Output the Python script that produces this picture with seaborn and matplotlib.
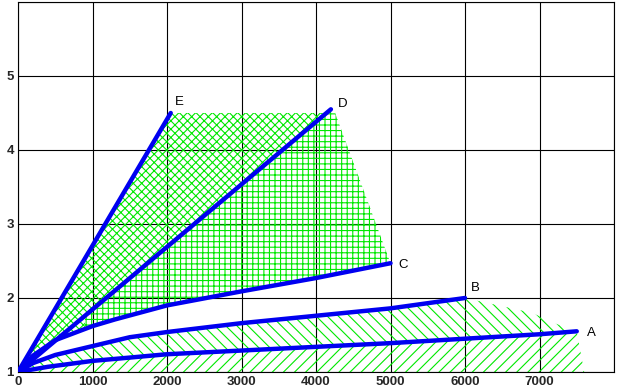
import numpy as np
import matplotlib
matplotlib.use("Agg")
import matplotlib.pyplot as plt
import seaborn as sns

# curves
x_a = [0, 400, 1000, 2000, 3000, 4000, 5000, 6000, 7000, 7500]
y_a = [1.0, 1.07, 1.15, 1.24, 1.29, 1.34, 1.39, 1.45, 1.51, 1.55]
x_b = [0, 200, 500, 1000, 1500, 2000, 3000, 4000, 5000, 6000]
y_b = [1.0, 1.12, 1.23, 1.35, 1.47, 1.54, 1.66, 1.76, 1.86, 2.0]
x_c = [0, 200, 500, 1000, 1300, 2000, 3000, 4000, 5000]
y_c = [1.0, 1.22, 1.43, 1.62, 1.71, 1.90, 2.09, 2.27, 2.47]
x_d = [0, 4200]
y_d = [1.0, 4.55]
x_e = [0, 2050]
y_e = [1.0, 4.5]
names = ["A", "B", "C", "D", "E"]

# borders of the hatched zones
grid_left = 900                      # where the "+" zone starts
x_grid_edge = [900, 4250, 5000]      # top / right edge of the "+" zone
y_grid_edge = [4.52, 4.52, 2.47]
x_ab_edge = [6000, 6900, 7200, 7500]  # right edge of zone between A and B
y_ab_edge = [2.0, 1.8, 1.66, 1.55]
a_edge_x = 7600                      # where the zone under A ends at y=1

sns.set_style("white")
plt.rcParams["font.family"] = ["Liberation Sans", "DejaVu Sans"]
plt.rcParams["hatch.linewidth"] = 0.8
plt.rcParams["hatch.color"] = "#00e800"

fig = plt.figure(figsize=(6.18, 3.92), dpi=100)
ax = fig.add_axes([18 / 618, 20 / 392, 596 / 618, 370 / 392])

green = "#00e800"
xs = np.linspace(0, 8000, 4001)
A = np.interp(xs, x_a, y_a)
B = np.interp(xs, x_b, y_b)
C = np.interp(xs, x_c, y_c)
D = np.interp(xs, x_d, y_d, right=np.inf)
E = np.interp(xs, x_e, y_e)

# crosshatch between E and D (and down to C near the origin)
low = np.where(xs < grid_left, C, D)
ax.fill_between(xs, low, E, where=E > low, interpolate=True, hatch="xxxx",
                facecolor="none", edgecolor=green, linewidth=0)

# grid hatch between D and C
top = np.minimum(D, np.interp(xs, x_grid_edge, y_grid_edge, right=-np.inf))
m = (xs >= grid_left) & (top > C)
ax.fill_between(xs, C, top, where=m, hatch="+++",
                facecolor="none", edgecolor=green, linewidth=0)

# "\" hatch between A and B
ab_top = np.interp(xs, x_b + x_ab_edge[1:], y_b + y_ab_edge[1:], right=-np.inf)
ax.fill_between(xs, A, ab_top, where=ab_top > A, interpolate=True, hatch="\\\\\\",
                facecolor="none", edgecolor=green, linewidth=0)

# "/" hatch under A
a_top = np.interp(xs, x_a + [a_edge_x], y_a + [1.0], right=1.0)
ax.fill_between(xs, 1.0, a_top, where=a_top > 1.0, interpolate=True, hatch="///",
                facecolor="none", edgecolor=green, linewidth=0)

blue = "#0000f0"
curves = [(x_a, y_a), (x_b, y_b), (x_c, y_c), (x_d, y_d), (x_e, y_e)]
offsets = [(7, -1), (4, 7), (6, -1), (5, 4), (3, 8)]
for (cx, cy), name, off in zip(curves, names, offsets):
    sns.lineplot(x=cx, y=cy, ax=ax, color=blue, linewidth=3.2, sort=False,
                 zorder=5)
    ax.annotate(name, (cx[-1], cy[-1]), xytext=off, textcoords="offset points",
                fontsize=9.5, ha="left", va="center", color="black")

ax.set_xlim(0, 8000)
ax.set_ylim(1, 6)
ax.set_xticks(range(0, 8001, 1000))
ax.set_yticks(range(1, 7))
ax.set_xticklabels([str(v) for v in range(0, 8000, 1000)] + [""],
                   fontweight="bold", fontsize=9.5)
ax.set_yticklabels([str(v) for v in range(1, 6)] + [""],
                   fontweight="bold", fontsize=9.5)
ax.tick_params(length=0, pad=3)
ax.grid(True, color="black", linewidth=0.8)
for s in ax.spines.values():
    s.set_color("black")
    s.set_linewidth(0.8)
ax.set_xlabel("")
ax.set_ylabel("")

fig.savefig("out.png", dpi=100)
